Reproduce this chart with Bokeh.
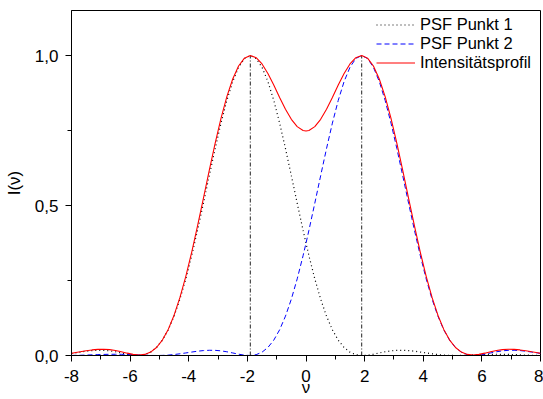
from bokeh.plotting import figure
from bokeh.models import FixedTicker, CustomJSTickFormatter, Legend, LegendItem, ColumnDataSource
from bokeh.embed import file_html
from bokeh.resources import INLINE

# ---- data ----
nu = [-8.0, -7.9, -7.7, -7.5, -7.3, -7.1, -6.9, -6.7, -6.5, -6.3, -6.1, -5.9, -5.7, -5.5, -5.3, -5.1,
      -4.9, -4.7, -4.5, -4.3, -4.1, -3.9, -3.7, -3.5, -3.3, -3.1, -2.9, -2.7, -2.5, -2.3, -2.1, -1.9,
      -1.7, -1.5, -1.3, -1.1, -0.9, -0.7, -0.5, -0.3, -0.1, 0.0, 0.1, 0.3, 0.5, 0.7, 0.9, 1.1, 1.3,
      1.5, 1.7, 1.9, 2.1, 2.3, 2.5, 2.7, 2.9, 3.1, 3.3, 3.5, 3.7, 3.9, 4.1, 4.3, 4.5, 4.7, 4.9, 5.1,
      5.3, 5.5, 5.7, 5.9, 6.1, 6.3, 6.5, 6.7, 6.9, 7.1, 7.3, 7.5, 7.7, 7.9, 8.0]

psf1 = [0.0070, 0.0085, 0.0115, 0.0143, 0.0164, 0.0174, 0.0172, 0.0155, 0.0124, 0.0085, 0.0044,
        0.0011, 0.0000, 0.0028, 0.0111, 0.0267, 0.0511, 0.0856, 0.1312, 0.1879, 0.2555, 0.3326,
        0.4175, 0.5075, 0.5994, 0.6897, 0.7746, 0.8503, 0.9133, 0.9607, 0.9900, 1.0000, 0.9900,
        0.9607, 0.9133, 0.8503, 0.7746, 0.6897, 0.5994, 0.5075, 0.4175, 0.3742, 0.3326, 0.2555,
        0.1879, 0.1312, 0.0856, 0.0511, 0.0267, 0.0111, 0.0028, 0.0000, 0.0011, 0.0044, 0.0085,
        0.0124, 0.0155, 0.0172, 0.0174, 0.0164, 0.0143, 0.0115, 0.0085, 0.0057, 0.0032, 0.0014,
        0.0004, 0.0000, 0.0002, 0.0009, 0.0018, 0.0027, 0.0034, 0.0040, 0.0041, 0.0040, 0.0036,
        0.0030, 0.0022, 0.0015, 0.0008, 0.0004, 0.0002]

psf2 = [0.0002, 0.0004, 0.0008, 0.0015, 0.0022, 0.0030, 0.0036, 0.0040, 0.0041, 0.0040, 0.0034,
        0.0027, 0.0018, 0.0009, 0.0002, 0.0000, 0.0004, 0.0014, 0.0032, 0.0057, 0.0085, 0.0115,
        0.0143, 0.0164, 0.0174, 0.0172, 0.0155, 0.0124, 0.0085, 0.0044, 0.0011, 0.0000, 0.0028,
        0.0111, 0.0267, 0.0511, 0.0856, 0.1312, 0.1879, 0.2555, 0.3326, 0.3742, 0.4175, 0.5075,
        0.5994, 0.6897, 0.7746, 0.8503, 0.9133, 0.9607, 0.9900, 1.0000, 0.9900, 0.9607, 0.9133,
        0.8503, 0.7746, 0.6897, 0.5994, 0.5075, 0.4175, 0.3326, 0.2555, 0.1879, 0.1312, 0.0856,
        0.0511, 0.0267, 0.0111, 0.0028, 0.0000, 0.0011, 0.0044, 0.0085, 0.0124, 0.0155, 0.0172,
        0.0174, 0.0164, 0.0143, 0.0115, 0.0085, 0.0070]

profil = [0.0072, 0.0089, 0.0123, 0.0158, 0.0186, 0.0204, 0.0208, 0.0195, 0.0165, 0.0125, 0.0078,
          0.0038, 0.0018, 0.0037, 0.0113, 0.0267, 0.0515, 0.0870, 0.1344, 0.1936, 0.2640, 0.3441,
          0.4318, 0.5239, 0.6168, 0.7069, 0.7901, 0.8627, 0.9218, 0.9651, 0.9911, 1.0000, 0.9928,
          0.9718, 0.9400, 0.9014, 0.8602, 0.8209, 0.7873, 0.7630, 0.7501, 0.7484, 0.7501, 0.7630,
          0.7873, 0.8209, 0.8602, 0.9014, 0.9400, 0.9718, 0.9928, 1.0000, 0.9911, 0.9651, 0.9218,
          0.8627, 0.7901, 0.7069, 0.6168, 0.5239, 0.4318, 0.3441, 0.2640, 0.1936, 0.1344, 0.0870,
          0.0515, 0.0267, 0.0113, 0.0037, 0.0018, 0.0038, 0.0078, 0.0125, 0.0165, 0.0195, 0.0208,
          0.0204, 0.0186, 0.0158, 0.0123, 0.0089, 0.0072]

peak_pos = [-1.9, 1.9]
peak_top = [1.0, 1.0]
peak_bottom = [0.0, 0.0]

x_ticks = [-8, -6, -4, -2, 0, 2, 4, 6, 8]
x_minor = [-7, -5, -3, -1, 1, 3, 5, 7]
y_ticks = [0.0, 0.5, 1.0]
y_minor = [0.25, 0.75]

series_labels = ["PSF Punkt 1", "PSF Punkt 2", "Intensitätsprofil"]
x_title = "ν"
y_title = "I(ν)"

FONT = "Liberation Sans"

p = figure(width=543, height=399, output_backend="svg", toolbar_location=None,
           x_range=(-8, 8), y_range=(0, 1.15),
           min_border_left=71, min_border_right=3, min_border_top=10, min_border_bottom=44)
p.background_fill_color = "white"
p.border_fill_color = "white"
p.outline_line_color = "black"
p.outline_line_width = 1
p.grid.visible = False

src = ColumnDataSource(dict(nu=nu, psf1=psf1, psf2=psf2, profil=profil))

p.segment(x0=peak_pos, y0=peak_bottom, x1=peak_pos, y1=peak_top,
          line_color="#222222", line_width=1, line_dash="4 2 1 2")
r1 = p.line("nu", "psf1", source=src, line_color="black", line_width=1.2, line_dash="1 3")
r2 = p.line("nu", "psf2", source=src, line_color="blue", line_width=1, line_dash="5 3")
r3 = p.line("nu", "profil", source=src, line_color="red", line_width=1.1)

for ax in (p.xaxis[0], p.yaxis[0]):
    ax.axis_line_color = "black"
    ax.major_tick_line_color = "black"
    ax.minor_tick_line_color = "black"
    ax.major_tick_in = 0
    ax.major_tick_out = 6
    ax.minor_tick_in = 0
    ax.minor_tick_out = 4
    ax.major_label_text_font = FONT
    ax.major_label_text_font_size = "17px"
    ax.major_label_text_color = "black"
    ax.axis_label_text_font = FONT
    ax.axis_label_text_font_size = "17px"
    ax.axis_label_text_font_style = "normal"
    ax.axis_label_text_color = "black"

p.xaxis.ticker = FixedTicker(ticks=x_ticks, minor_ticks=x_minor)
p.yaxis.ticker = FixedTicker(ticks=y_ticks, minor_ticks=y_minor)
p.xaxis.formatter = CustomJSTickFormatter(code="return tick.toFixed(0);")
p.yaxis.formatter = CustomJSTickFormatter(code="return tick.toFixed(1).replace('.', ',');")
p.xaxis.major_label_standoff = 8
p.yaxis.major_label_standoff = 7
p.xaxis.axis_label = x_title
p.xaxis.axis_label_standoff = -7
p.yaxis.axis_label = y_title
p.yaxis.axis_label_standoff = 8

legend = Legend(items=[LegendItem(label=series_labels[0], renderers=[r1]),
                       LegendItem(label=series_labels[1], renderers=[r2]),
                       LegendItem(label=series_labels[2], renderers=[r3])],
                location=(305, 283), border_line_color=None, background_fill_alpha=0,
                label_text_font=FONT, label_text_font_size="16.5px", label_text_color="black",
                glyph_width=39, glyph_height=19, label_height=19, spacing=-1,
                padding=2, margin=0, label_standoff=5)
p.add_layout(legend)

open("out.html", "w").write(file_html(p, INLINE))
